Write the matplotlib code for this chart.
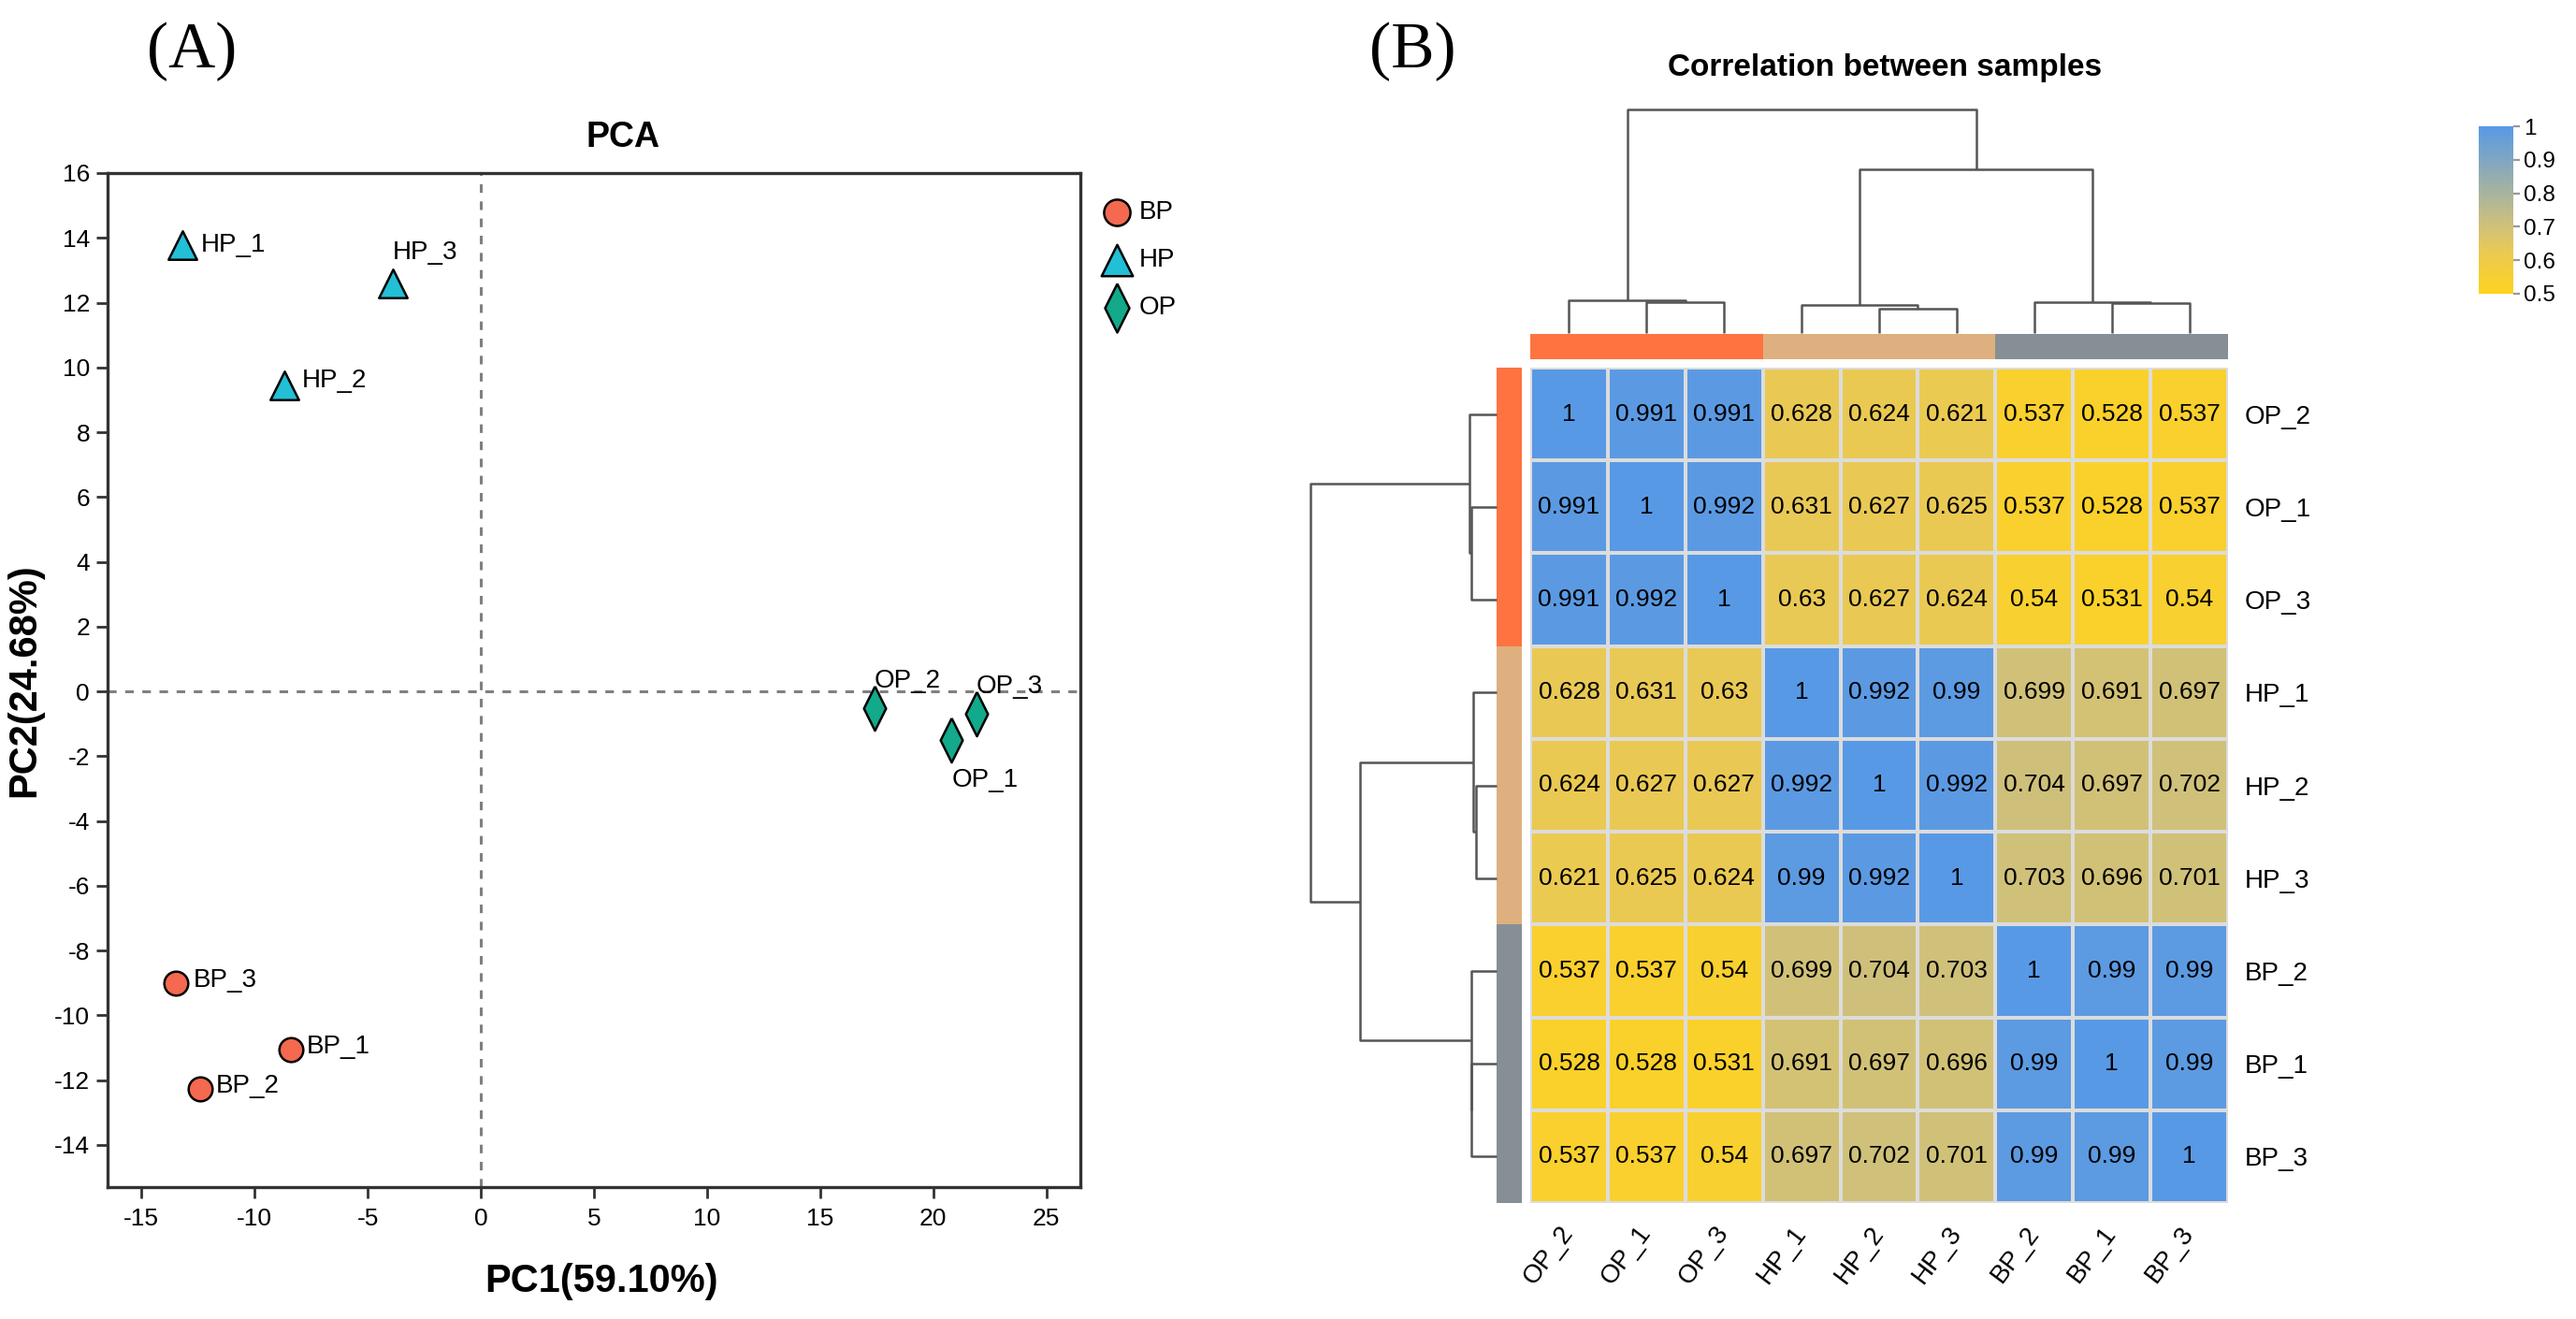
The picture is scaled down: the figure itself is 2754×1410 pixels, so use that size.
import numpy as np
import matplotlib
matplotlib.use("Agg")
import matplotlib.pyplot as plt
from matplotlib.colors import LinearSegmentedColormap, ListedColormap

plt.rcParams['font.family'] = ['Liberation Sans', 'DejaVu Sans']
plt.rcParams['axes.unicode_minus'] = False

# ---- PCA data ----
samples = ['BP_1', 'BP_2', 'BP_3', 'HP_1', 'HP_2', 'HP_3', 'OP_1', 'OP_2', 'OP_3']
groups = ['BP', 'BP', 'BP', 'HP', 'HP', 'HP', 'OP', 'OP', 'OP']
pc1 = [-8.4, -12.4, -13.5, -13.2, -8.7, -3.9, 20.8, 17.4, 21.9]
pc2 = [-11.05, -12.27, -9.0, 13.77, 9.44, 12.6, -1.49, -0.53, -0.7]
pc1_label = 'PC1(59.10%)'
pc2_label = 'PC2(24.68%)'

# ---- correlation heatmap data (clustered order) ----
hm_order = ['OP_2', 'OP_1', 'OP_3', 'HP_1', 'HP_2', 'HP_3', 'BP_2', 'BP_1', 'BP_3']
hm_group = ['OP', 'OP', 'OP', 'HP', 'HP', 'HP', 'BP', 'BP', 'BP']
corr = [
    [1, 0.991, 0.991, 0.628, 0.624, 0.621, 0.537, 0.528, 0.537],
    [0.991, 1, 0.992, 0.631, 0.627, 0.625, 0.537, 0.528, 0.537],
    [0.991, 0.992, 1, 0.63, 0.627, 0.624, 0.54, 0.531, 0.54],
    [0.628, 0.631, 0.63, 1, 0.992, 0.99, 0.699, 0.691, 0.697],
    [0.624, 0.627, 0.627, 0.992, 1, 0.992, 0.704, 0.697, 0.702],
    [0.621, 0.625, 0.624, 0.99, 0.992, 1, 0.703, 0.696, 0.701],
    [0.537, 0.537, 0.54, 0.699, 0.704, 0.703, 1, 0.99, 0.99],
    [0.528, 0.528, 0.531, 0.691, 0.697, 0.696, 0.99, 1, 0.99],
    [0.537, 0.537, 0.54, 0.697, 0.702, 0.701, 0.99, 0.99, 1],
]
# merges on leaf indices of hm_order: (a, b, relative height)
merges = [
    (1, 2, 0.138),
    (0, 9, 0.146),
    (4, 5, 0.109),
    (3, 11, 0.126),
    (7, 8, 0.134),
    (6, 13, 0.138),
    (12, 14, 0.732),
    (10, 15, 1.0),
]
cbar_ticks = [0.5, 0.6, 0.7, 0.8, 0.9, 1.0]
cbar_labels = ['0.5', '0.6', '0.7', '0.8', '0.9', '1']

# styles
W, H = 2754, 1410
thin_diamond = [(0, 1), (0.5, 0), (0, -1), (-0.5, 0), (0, 1)]
group_style = {
    'BP': dict(marker='o', color='#F4694F', s=85),
    'HP': dict(marker='^', color='#22BFD6', s=120),
    'OP': dict(marker=thin_diamond, color='#13A98B', s=290),
}
label_offset = {
    'BP_1': (6, 1, 'left', 'center'), 'BP_2': (6, 1, 'left', 'center'),
    'BP_3': (7, 1, 'left', 'center'), 'HP_1': (7, 0, 'left', 'center'),
    'HP_2': (7, 2, 'left', 'center'), 'HP_3': (0, 7, 'left', 'bottom'),
    'OP_1': (0, -11, 'left', 'top'), 'OP_2': (0, 6, 'left', 'bottom'),
    'OP_3': (0, 6, 'left', 'bottom'),
}
annot_colors = {'OP': '#FF7340', 'HP': '#DEB07F', 'BP': '#878F96'}
cmap = LinearSegmentedColormap.from_list(
    'corr', [(0.0, '#FFD31F'), (0.26, '#E9C955'), (0.4, '#D0C179'), (1.0, '#5899E6')])


def rect(x0, y0, x1, y1):
    return [x0 / W, 1 - y1 / H, (x1 - x0) / W, (y1 - y0) / H]


fig = plt.figure(figsize=(W / 200, H / 200), dpi=200)

# ================= (A) PCA =================
ax = fig.add_axes(rect(115, 185, 1155, 1269))
handles = []
for g in ['BP', 'HP', 'OP']:
    idx = [i for i, gg in enumerate(groups) if gg == g]
    st = group_style[g]
    h = ax.scatter([pc1[i] for i in idx], [pc2[i] for i in idx], marker=st['marker'],
                   s=st['s'], c=st['color'], edgecolors='black', linewidths=0.9, zorder=3, label=g)
    handles.append(h)
for i, name in enumerate(samples):
    dx, dy, ha, va = label_offset[name]
    ax.annotate(name, (pc1[i], pc2[i]), xytext=(dx, dy), textcoords='offset points',
                ha=ha, va=va, fontsize=10, zorder=4)
ax.axvline(0, color='#808080', lw=1.1, ls=(0, (3, 3)), zorder=1)
ax.axhline(0, color='#808080', lw=1.1, ls=(0, (3, 3)), zorder=1)
ax.set_xlim(-16.5, 26.5)
ax.set_ylim(-15.3, 16)
ax.set_xticks(np.arange(-15, 26, 5))
ax.set_yticks(np.arange(-14, 17, 2))
ax.tick_params(direction='out', length=4.3, width=1, color='#333333', labelsize=9.5, pad=2.5)
ax.tick_params(axis='x', pad=3.5)
for sp in ax.spines.values():
    sp.set_color('#333333')
    sp.set_linewidth(1.2)
ax.set_xlabel(pc1_label, fontsize=15, fontweight='bold')
ax.set_ylabel(pc2_label, fontsize=15, fontweight='bold')
ax.xaxis.set_label_coords(0.508, -0.075)
ax.yaxis.set_label_coords(-0.066, 0.5)
fig.legend(handles=handles, labels=['BP', 'HP', 'OP'], loc='upper left',
           bbox_to_anchor=(1180 / W, 1 - 214 / H), frameon=False, fontsize=10,
           markerscale=1.1, handlelength=1.0, handletextpad=0.35, labelspacing=0.9,
           borderpad=0, borderaxespad=0)
fig.text(666 / W, 1 - 147 / H, 'PCA', ha='center', va='center', fontsize=13.5, fontweight='bold')
fig.text(205 / W, 1 - 55 / H, '(A)', ha='center', va='center', fontsize=25,
         family=['Liberation Serif', 'DejaVu Serif'])

# ================= (B) correlation heatmap =================
corr_arr = np.array(corr)
n = len(hm_order)
hm = fig.add_axes(rect(1636, 393, 2382, 1286))
mesh = hm.pcolormesh(np.arange(n + 1), np.arange(n + 1), corr_arr, cmap=cmap, vmin=0.5, vmax=1.0,
                     edgecolors='#dcdcdc', linewidth=0.8)
hm.set_xlim(0, n)
hm.set_ylim(n, 0)
for i in range(n):
    for j in range(n):
        hm.text(j + 0.5, i + 0.5, f'{corr_arr[i, j]:g}', ha='center', va='center', fontsize=9.5)
for sp in hm.spines.values():
    sp.set_visible(False)
hm.yaxis.tick_right()
hm.set_yticks(np.arange(n) + 0.5, hm_order)
hm.set_xticks(np.arange(n) + 0.5, hm_order, rotation=53, ha='right', va='center',
              rotation_mode='anchor')
hm.tick_params(axis='y', length=0, pad=6.5, labelsize=10)
hm.tick_params(axis='x', length=0, pad=10, labelsize=10)

gcodes = {'OP': 0, 'HP': 1, 'BP': 2}
annot_cmap = ListedColormap([annot_colors['OP'], annot_colors['HP'], annot_colors['BP']])
codes = np.array([[gcodes[g] for g in hm_group]])
ta = fig.add_axes(rect(1636, 357, 2382, 384))
ta.pcolormesh(codes, cmap=annot_cmap, vmin=-0.5, vmax=2.5)
ta.set_axis_off()
ra = fig.add_axes(rect(1600, 393, 1627, 1286))
ra.pcolormesh(codes.T, cmap=annot_cmap, vmin=-0.5, vmax=2.5)
ra.set_ylim(n, 0)
ra.set_axis_off()


def dendro(axd, horizontal):
    pos = {i: i + 0.5 for i in range(n)}
    hgt = {i: 0.0 for i in range(n)}
    for k, (a, b, h) in enumerate(merges):
        xs = [pos[a], pos[a], pos[b], pos[b]]
        ys = [hgt[a], h, h, hgt[b]]
        if horizontal:
            axd.plot(ys, xs, color='#555555', lw=0.9, clip_on=False, solid_capstyle='butt')
        else:
            axd.plot(xs, ys, color='#555555', lw=0.9, clip_on=False, solid_capstyle='butt')
        pos[n + k] = (pos[a] + pos[b]) / 2
        hgt[n + k] = h


td = fig.add_axes(rect(1636, 117, 2382, 356))
dendro(td, False)
td.set_xlim(0, n)
td.set_ylim(0, 1)
td.set_axis_off()
rd = fig.add_axes(rect(1401, 393, 1600, 1286))
dendro(rd, True)
rd.set_ylim(n, 0)
rd.set_xlim(1, 0)
rd.set_axis_off()

cax = fig.add_axes(rect(2650, 135, 2687, 314))
cb = fig.colorbar(mesh, cax=cax, ticks=cbar_ticks)
cb.set_ticklabels(cbar_labels)
cb.outline.set_visible(False)
cax.tick_params(length=2.5, width=0.8, color='#999999', labelsize=8.8, pad=1.5)

fig.text(2015 / W, 1 - 72 / H, 'Correlation between samples', ha='center', va='center',
         fontsize=12, fontweight='bold')
fig.text(1510 / W, 1 - 55 / H, '(B)', ha='center', va='center', fontsize=25,
         family=['Liberation Serif', 'DejaVu Serif'])

fig.savefig('out.png', dpi=200, facecolor='white')
